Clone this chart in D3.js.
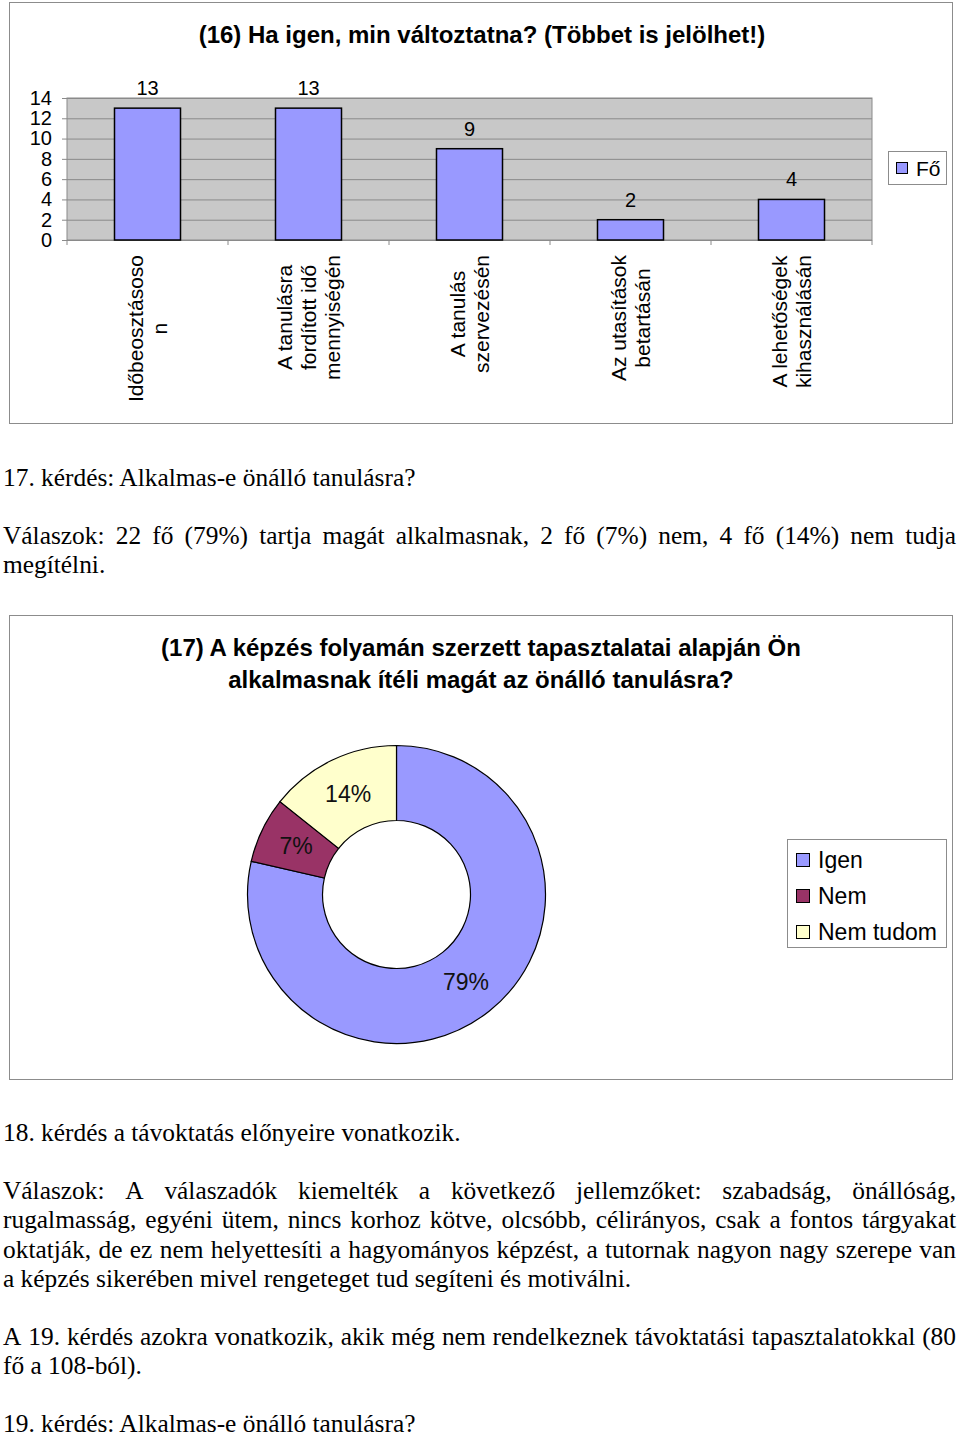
<!DOCTYPE html>
<html>
<head>
<meta charset="utf-8">
<script src="https://cdn.jsdelivr.net/npm/d3@7"></script>
<style>
  body { margin: 0; background: #fff; }
  svg { display: block; }
</style>
</head>
<body>
<svg id="page" width="960" height="1436"></svg>
<script>
// bar chart (16)
const barTitle = "(16) Ha igen, min változtatna? (Többet is jelölhet!)";
const barCategories = [
  "Időbeosztásoso\nn",
  "A tanulásra\nfordított idő\nmennyiségén",
  "A tanulás\nszervezésén",
  "Az utasítások\nbetartásán",
  "A lehetőségek\nkihasználásán"
];
const barValues = [13, 13, 9, 2, 4];
const barTicks = [0, 2, 4, 6, 8, 10, 12, 14];
const barSeries = "Fő";

// donut chart (17)
const pieTitle = ["(17) A képzés folyamán szerzett tapasztalatai alapján Ön",
                  "alkalmasnak ítéli magát az önálló tanulásra?"];
const pieCategories = ["Igen", "Nem", "Nem tudom"];
const pieValues = [22, 2, 4];
const pieLabels = ["79%", "7%", "14%"];
const pieColors = ["#9999ff", "#993366", "#ffffcc"];

// body text: [text, baseline, justified]
const paragraphs = [
  ["17. kérdés: Alkalmas-e önálló tanulásra?", 486, false],
  ["Válaszok: 22 fő (79%) tartja magát alkalmasnak, 2 fő (7%) nem, 4 fő (14%) nem tudja", 544, true],
  ["megítélni.", 573, false],
  ["18. kérdés a távoktatás előnyeire vonatkozik.", 1141, false],
  ["Válaszok: A válaszadók kiemelték a következő jellemzőket: szabadság, önállóság,", 1199, true],
  ["rugalmasság, egyéni ütem, nincs korhoz kötve, olcsóbb, célirányos, csak a fontos tárgyakat", 1228, true],
  ["oktatják, de ez nem helyettesíti a hagyományos képzést, a tutornak nagyon nagy szerepe van", 1258, true],
  ["a képzés sikerében mivel rengeteget tud segíteni és motiválni.", 1287, false],
  ["A 19. kérdés azokra vonatkozik, akik még nem rendelkeznek távoktatási tapasztalatokkal (80", 1345, true],
  ["fő a 108-ból).", 1374, false],
  ["19. kérdés: Alkalmas-e önálló tanulásra?", 1432, false]
];

const svg = d3.select('#page');
const sans = '"Liberation Sans", Arial, sans-serif';
const serif = '"Liberation Serif", "Times New Roman", serif';

// ---------- chart 16 ----------
svg.append('rect')
  .attr('x', 9.5).attr('y', 2.5).attr('width', 943).attr('height', 421)
  .attr('fill', '#fff').attr('stroke', '#8c8c8c');

svg.append('text')
  .attr('x', 482).attr('y', 43)
  .attr('text-anchor', 'middle')
  .style('font-family', sans).style('font-size', '24px').style('font-weight', 'bold')
  .text(barTitle);

const plot = { left: 67, right: 872, top: 98, bottom: 240 };

const x = d3.scaleBand()
  .domain(barCategories)
  .range([plot.left, plot.right])
  .paddingInner(0.59)
  .paddingOuter(0.295);

const xBand = d3.scaleBand()
  .domain(barCategories)
  .range([plot.left, plot.right]);

const y = d3.scaleLinear()
  .domain([0, 14])
  .range([plot.bottom, plot.top]);

const g = svg.append('g');

g.append('rect')
  .attr('x', plot.left).attr('y', plot.top)
  .attr('width', plot.right - plot.left).attr('height', plot.bottom - plot.top)
  .attr('fill', '#c8c8c8');

// gridlines
g.append('g')
  .attr('transform', `translate(${plot.left},0)`)
  .call(d3.axisLeft(y).tickValues(barTicks).tickSize(-(plot.right - plot.left)).tickFormat(''))
  .call(a => a.select('.domain').remove())
  .call(a => a.selectAll('.tick line').attr('stroke', '#8a8a8a'));

// y axis ticks and labels
g.append('g')
  .attr('transform', `translate(${plot.left},0)`)
  .call(d3.axisLeft(y).tickValues(barTicks).tickSize(5).tickPadding(10))
  .call(a => a.select('.domain').remove())
  .call(a => a.selectAll('.tick line').attr('stroke', '#8a8a8a'))
  .call(a => a.selectAll('.tick text')
    .style('font-family', sans).style('font-size', '20px').attr('fill', '#000'));

// plot frame
g.append('rect')
  .attr('x', plot.left).attr('y', plot.top)
  .attr('width', plot.right - plot.left).attr('height', plot.bottom - plot.top)
  .attr('fill', 'none').attr('stroke', '#8a8a8a');

// category ticks
g.append('g')
  .selectAll('line')
  .data(barCategories.map(d => xBand(d)).concat([plot.right]))
  .join('line')
  .attr('x1', d => d).attr('x2', d => d)
  .attr('y1', plot.bottom).attr('y2', plot.bottom + 5)
  .attr('stroke', '#8a8a8a');

// bars
g.append('g')
  .selectAll('rect')
  .data(barValues)
  .join('rect')
  .attr('x', (d, i) => x(barCategories[i]))
  .attr('y', d => y(d))
  .attr('width', x.bandwidth())
  .attr('height', d => y(0) - y(d))
  .attr('fill', '#9999ff')
  .attr('stroke', '#000')
  .attr('stroke-width', 1.5);

// value labels
g.append('g')
  .selectAll('text')
  .data(barValues)
  .join('text')
  .attr('x', (d, i) => x(barCategories[i]) + x.bandwidth() / 2)
  .attr('y', d => y(d) - 13)
  .attr('text-anchor', 'middle')
  .style('font-family', sans).style('font-size', '20px')
  .text(d => d);

// rotated category labels
const catLines = 24;
barCategories.forEach(cat => {
  const lines = cat.split('\n');
  const cg = g.append('g')
    .attr('transform', `translate(${xBand(cat) + xBand.bandwidth() / 2},255) rotate(-90)`);
  const t = cg.selectAll('text')
    .data(lines)
    .join('text')
    .attr('y', (d, i) => (i - (lines.length - 1) / 2) * catLines)
    .attr('dy', '0.36em')
    .attr('text-anchor', 'middle')
    .style('font-family', sans).style('font-size', '21px')
    .text(d => d);
  const maxLen = d3.max(t.nodes(), n => n.getComputedTextLength());
  t.attr('x', -maxLen / 2);
});

// legend
const lg = svg.append('g');
lg.append('rect')
  .attr('x', 888.5).attr('y', 151.5).attr('width', 58).attr('height', 33)
  .attr('fill', '#fff').attr('stroke', '#8c8c8c');
lg.append('rect')
  .attr('x', 896.5).attr('y', 162.5).attr('width', 11).attr('height', 11)
  .attr('fill', '#9999ff').attr('stroke', '#000');
lg.append('text')
  .attr('x', 916).attr('y', 176)
  .style('font-family', sans).style('font-size', '21px')
  .text(barSeries);

// ---------- chart 17 ----------
svg.append('rect')
  .attr('x', 9.5).attr('y', 615.5).attr('width', 943).attr('height', 464)
  .attr('fill', '#fff').attr('stroke', '#8c8c8c');

svg.append('g')
  .selectAll('text')
  .data(pieTitle)
  .join('text')
  .attr('x', 481)
  .attr('y', (d, i) => 656 + i * 32)
  .attr('text-anchor', 'middle')
  .style('font-family', sans).style('font-size', '24px').style('font-weight', 'bold')
  .text(d => d);

const pie = d3.pie().sort(null).value(d => d);
const arcs = pie(pieValues);
const arc = d3.arc().innerRadius(74).outerRadius(149);

const pg = svg.append('g').attr('transform', 'translate(396.5,894.5)');

pg.selectAll('path')
  .data(arcs)
  .join('path')
  .attr('d', arc)
  .attr('fill', (d, i) => pieColors[i])
  .attr('stroke', '#000')
  .attr('stroke-width', 1.2);

pg.selectAll('text')
  .data(arcs)
  .join('text')
  .attr('transform', d => `translate(${arc.centroid(d)})`)
  .attr('text-anchor', 'middle')
  .attr('dy', '0.36em')
  .style('font-family', sans).style('font-size', '23px')
  .attr('fill', '#111')
  .text((d, i) => pieLabels[i]);

const leg2 = svg.append('g');
leg2.append('rect')
  .attr('x', 787.5).attr('y', 839.5).attr('width', 159).attr('height', 108)
  .attr('fill', '#fff').attr('stroke', '#8c8c8c');
const items = leg2.selectAll('g.item')
  .data(pieCategories)
  .join('g')
  .attr('class', 'item')
  .attr('transform', (d, i) => `translate(0,${i * 36})`);
items.append('rect')
  .attr('x', 796.5).attr('y', 853.5).attr('width', 13).attr('height', 13)
  .attr('fill', (d, i) => pieColors[i]).attr('stroke', '#000');
items.append('text')
  .attr('x', 818).attr('y', 868)
  .style('font-family', sans).style('font-size', '23px')
  .text(d => d);

// ---------- body text ----------
const textLeft = 3, textRight = 956;
paragraphs.forEach(([line, base, justify]) => {
  if (!justify) {
    svg.append('text')
      .attr('x', textLeft).attr('y', base)
      .style('font-family', serif).style('font-size', '25.4px')
      .text(line);
    return;
  }
  const words = line.split(' ');
  const wt = svg.append('g').selectAll('text')
    .data(words)
    .join('text')
    .attr('y', base)
    .style('font-family', serif).style('font-size', '25.4px')
    .text(d => d);
  const widths = wt.nodes().map(n => n.getComputedTextLength());
  const gap = (textRight - textLeft - d3.sum(widths)) / (words.length - 1);
  let cx = textLeft;
  wt.attr('x', (d, i) => {
    const pos = cx;
    cx += widths[i] + gap;
    return pos;
  });
});
</script>
</body>
</html>
